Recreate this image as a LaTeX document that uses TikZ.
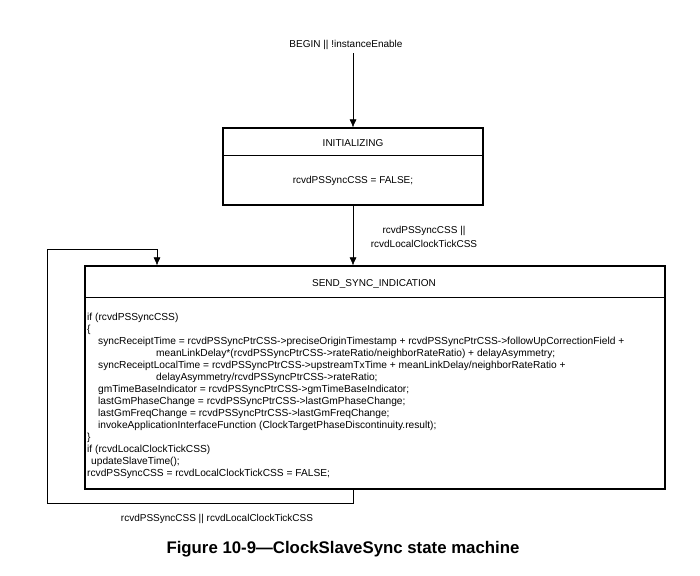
\documentclass[tikz,border=0pt]{standalone}
\usepackage{fontspec}
\setmainfont{Liberation Sans}
\usetikzlibrary{arrows.meta}

\begin{document}
\begin{tikzpicture}[x=1pt,y=-1pt,>={Latex[length=8pt,width=7pt]},
    every node/.style={font=\fontsize{10}{11.8}\selectfont},
    statebox/.style={draw,line width=1.2pt,inner sep=0pt},
    trans/.style={line width=0.6pt}]
  \useasboundingbox (0,0) rectangle (700,575);
  % states
  \node (init) [statebox,minimum width=260pt,minimum height=77pt] at (353,166.5) {};
  \draw[line width=1.2pt] ([yshift=-28pt]init.north west) -- ([yshift=-28pt]init.north east);
  \node (initname) at (353,143) {INITIALIZING};
  \node (initbody) at (353,181) {rcvdPSSyncCSS = FALSE;};
  \node (send) [statebox,minimum width=580pt,minimum height=223pt] at (375,377.5) {};
  \draw[line width=1.2pt] ([yshift=-32pt]send.north west) -- ([yshift=-32pt]send.north east);
  \node (sendname) at (374,284) {SEND\_SYNC\_INDICATION};
  \node (sendbody) [anchor=north west,align=left,inner sep=0pt,
      font=\fontsize{10.2}{12}\selectfont] at (87,312.5) {%
    if (rcvdPSSyncCSS)\\
    \{\\
    \hspace*{11pt}syncReceiptTime = rcvdPSSyncPtrCSS->preciseOriginTimestamp + rcvdPSSyncPtrCSS->followUpCorrectionField +\\
    \hspace*{69pt}meanLinkDelay*(rcvdPSSyncPtrCSS->rateRatio/neighborRateRatio) + delayAsymmetry;\\
    \hspace*{11pt}syncReceiptLocalTime = rcvdPSSyncPtrCSS->upstreamTxTime + meanLinkDelay/neighborRateRatio +\\
    \hspace*{69pt}delayAsymmetry/rcvdPSSyncPtrCSS->rateRatio;\\
    \hspace*{11pt}gmTimeBaseIndicator = rcvdPSSyncPtrCSS->gmTimeBaseIndicator;\\
    \hspace*{11pt}lastGmPhaseChange = rcvdPSSyncPtrCSS->lastGmPhaseChange;\\
    \hspace*{11pt}lastGmFreqChange = rcvdPSSyncPtrCSS->lastGmFreqChange;\\
    \hspace*{11pt}invokeApplicationInterfaceFunction (ClockTargetPhaseDiscontinuity.result);\\
    \}\\
    if (rcvdLocalClockTickCSS)\\
    \hspace*{4pt}updateSlaveTime();\\
    rcvdPSSyncCSS = rcvdLocalClockTickCSS = FALSE;};
  % transitions
  \node (start) at (346,45) {BEGIN || !instanceEnable};
  \draw[trans,->] (start.south -| init.north) -- (init.north);
  \draw[trans,->] (init.south) -- (init.south |- send.north);
  \node (initcond) [align=center] at (424,237) {rcvdPSSyncCSS ||\\[2pt]rcvdLocalClockTickCSS};
  \coordinate (loopcorner) at (47,503);
  \coordinate (loopback) at (157,249);
  \draw[trans,->] (send.south -| init.south) |- (loopcorner) |- (loopback) -- (loopback |- send.north);
  \node (loopcond) at (217,519) {rcvdPSSyncCSS || rcvdLocalClockTickCSS};
  \node (caption) at (343,549) {\fontsize{16.8}{20}\selectfont\bfseries Figure 10-9---ClockSlaveSync state machine};
\end{tikzpicture}
\end{document}
